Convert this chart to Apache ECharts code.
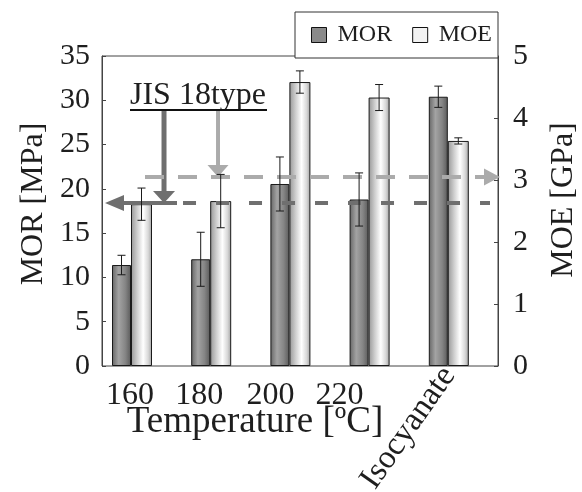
<!DOCTYPE html>
<html><head><meta charset="utf-8">
<script src="https://cdn.jsdelivr.net/npm/echarts@6/dist/echarts.min.js"></script>
<style>html,body{margin:0;padding:0;background:#fff}#c{width:582px;height:492px}</style>
</head><body><div id="c"></div>
<script>
// ---- data ----
const categories = ['160', '180', '200', '220', 'Isocyanate'];
const morValues = [11.4, 12.05, 20.55, 18.8, 30.4];
const morErrors = [1.1, 3.05, 3.05, 3.0, 1.2];
const moeValues = [2.61, 2.66, 4.58, 4.33, 3.63];
const moeErrors = [0.26, 0.43, 0.18, 0.21, 0.05];
const morTicks = [0, 5, 10, 15, 20, 25, 30, 35];
const moeTicks = [0, 1, 2, 3, 4, 5];
const jisMOR = 18.4;   // JIS 18 type MOR threshold [MPa]
const jisMOE = 3.05;   // JIS 18 type MOE threshold [GPa]
const jisLabel = 'JIS 18type';
const xName = 'Temperature [ºC]';
const morName = 'MOR [MPa]';
const moeName = 'MOE [GPa]';

// ---- style ----
const FONT = '"Liberation Serif", "Times New Roman", serif';
const TXT = '#1e1e1e';
const AX = '#444';
const MOR_W = 19, MOE_W = 21;
const DARK = '#6f6f6f', LIGHT = '#ababab';
const morGrad = {type: 'linear', x: 0, y: 0, x2: 1, y2: 0, colorStops: [
  {offset: 0, color: '#656565'}, {offset: 0.35, color: '#a3a3a3'},
  {offset: 0.7, color: '#858585'}, {offset: 1, color: '#5a5a5a'}]};
const moeGrad = {type: 'linear', x: 0, y: 0, x2: 1, y2: 0, colorStops: [
  {offset: 0, color: '#979797'}, {offset: 0.3, color: '#cfcfcf'},
  {offset: 0.58, color: '#ffffff'}, {offset: 0.82, color: '#d8d8d8'}, {offset: 1, color: '#a2a2a2'}]};

// annotation layout (x in frame-axis units 0..5)
const darkArrow = {tip: 0.038, solidEnd: 0.947, dashStart: 1.023, dashEnd: 4.899, vx: 0.783, vtop: 28.79};
const lightArrow = {dashStart: 0.543, dashEnd: 4.836, tip: 5.025, vx: 1.465, vtop: 4.113};

const chart = echarts.init(document.getElementById('c'), null, {renderer: 'canvas'});

function errRender(offset) {
  return function (params, api) {
    const i = api.value(0), v = api.value(1), e = api.value(2);
    const x = api.coord([i, v])[0] + offset;
    const t = api.coord([i, v + e])[1];
    const b = api.coord([i, v - e])[1];
    const st = {stroke: '#1a1a1a', lineWidth: 1};
    return {type: 'group', children: [
      {type: 'line', shape: {x1: x, y1: t, x2: x, y2: b}, style: st},
      {type: 'line', shape: {x1: x - 4, y1: t, x2: x + 4, y2: t}, style: st},
      {type: 'line', shape: {x1: x - 4, y1: b, x2: x + 4, y2: b}, style: st}
    ]};
  };
}

function darkRender(params, api) {
  const y = api.coord([0, jisMOR])[1];
  const tip = api.coord([darkArrow.tip, jisMOR])[0];
  const se = api.coord([darkArrow.solidEnd, jisMOR])[0];
  const ds = api.coord([darkArrow.dashStart, jisMOR])[0];
  const de = api.coord([darkArrow.dashEnd, jisMOR])[0];
  const vx = api.coord([darkArrow.vx, jisMOR])[0];
  const vt = api.coord([0, darkArrow.vtop])[1];
  return {type: 'group', children: [
    {type: 'line', shape: {x1: tip + 15, y1: y, x2: se, y2: y}, style: {stroke: DARK, lineWidth: 4}},
    {type: 'line', shape: {x1: ds, y1: y, x2: de, y2: y}, style: {stroke: DARK, lineWidth: 4, lineDash: [13, 20]}},
    {type: 'polygon', shape: {points: [[tip, y], [tip + 19, y - 8], [tip + 19, y + 8]]}, style: {fill: DARK}},
    {type: 'line', shape: {x1: vx, y1: vt, x2: vx, y2: y - 10}, style: {stroke: DARK, lineWidth: 5}},
    {type: 'polygon', shape: {points: [[vx - 11, y - 12], [vx + 11, y - 12], [vx, y]]}, style: {fill: DARK}}
  ]};
}

function lightRender(params, api) {
  const y = api.coord([0, jisMOE])[1];
  const ds = api.coord([lightArrow.dashStart, jisMOE])[0];
  const de = api.coord([lightArrow.dashEnd, jisMOE])[0];
  const tip = api.coord([lightArrow.tip, jisMOE])[0];
  const vx = api.coord([lightArrow.vx, jisMOE])[0];
  const vt = api.coord([0, lightArrow.vtop])[1];
  return {type: 'group', children: [
    {type: 'line', shape: {x1: ds, y1: y, x2: de, y2: y}, style: {stroke: LIGHT, lineWidth: 4, lineDash: [19, 14]}},
    {type: 'polygon', shape: {points: [[tip, y], [tip - 16, y - 8.5], [tip - 16, y + 8.5]]}, style: {fill: LIGHT}},
    {type: 'line', shape: {x1: vx, y1: vt, x2: vx, y2: y - 10}, style: {stroke: LIGHT, lineWidth: 4}},
    {type: 'polygon', shape: {points: [[vx - 10.5, y - 12], [vx + 10.5, y - 12], [vx, y]]}, style: {fill: LIGHT}}
  ]};
}

const labelShift = [4, 24, 40, 60];
const rich = {};
labelShift.forEach((p, i) => { rich['l' + i] = {fontFamily: FONT, fontSize: 32, color: TXT, padding: [0, p, 0, 0]}; });

const option = {
  animation: false,
  backgroundColor: '#fff',
  grid: [
    {left: 102, top: 56, width: 396, height: 310, show: true, borderColor: AX, borderWidth: 1,
     backgroundColor: 'transparent', containLabel: false, outerBoundsMode: 'none'},
    {left: 92.4, top: 56, width: 396, height: 310, containLabel: false, outerBoundsMode: 'none'}
  ],
  legend: {
    left: 295, top: 12, itemWidth: 15, itemHeight: 15, itemGap: 20,
    padding: [11, 6, 11, 16], borderColor: '#333', borderWidth: 1, backgroundColor: '#fff',
    selectedMode: false, z: 10,
    textStyle: {fontFamily: FONT, fontSize: 24, color: TXT, padding: [0, 0, 0, 6]},
    data: [
      {name: 'MOR', icon: 'rect', itemStyle: {color: '#8a8a8a', borderColor: '#111', borderWidth: 1}},
      {name: 'MOE', icon: 'rect', itemStyle: {color: '#f2f2f2', borderColor: '#111', borderWidth: 1}}
    ]
  },
  xAxis: [
    {type: 'value', gridIndex: 0, position: 'bottom', min: 0, max: 5, axisLine: {show: false}, axisTick: {show: false},
     axisLabel: {show: false}, splitLine: {show: false},
     name: xName, nameLocation: 'middle', nameGap: 38,
     nameTextStyle: {fontFamily: FONT, fontSize: 37, color: TXT, padding: [0, 90, 0, 0]}},
    {type: 'category', gridIndex: 1, position: 'bottom', data: categories, axisLine: {show: false}, axisTick: {show: false},
     axisLabel: {interval: (i) => i < 4, margin: 14, formatter: (v, i) => '{l' + i + '|' + v + '}', rich: rich}},
    {type: 'category', gridIndex: 1, position: 'bottom', data: categories, axisLine: {show: false}, axisTick: {show: false},
     axisLabel: {interval: (i) => i === 4, rotate: 55, margin: 4, fontFamily: FONT, fontSize: 33, color: TXT}}
  ],
  yAxis: [
    {type: 'value', gridIndex: 0, position: 'left', min: morTicks[0], max: morTicks[morTicks.length - 1],
     interval: morTicks[1] - morTicks[0],
     axisLine: {show: true, lineStyle: {color: AX, width: 1}},
     axisTick: {show: true, inside: true, length: 4, lineStyle: {color: AX}},
     axisLabel: {margin: 12, fontFamily: FONT, fontSize: 30, color: TXT}, splitLine: {show: false},
     name: morName, nameLocation: 'middle', nameGap: 52, nameRotate: 90,
     nameTextStyle: {fontFamily: FONT, fontSize: 32, color: TXT, padding: [0, 0, 0, 14]}},
    {type: 'value', gridIndex: 0, position: 'right', min: moeTicks[0], max: moeTicks[moeTicks.length - 1],
     interval: moeTicks[1] - moeTicks[0],
     axisLine: {show: true, lineStyle: {color: AX, width: 1}},
     axisTick: {show: true, inside: true, length: 4, lineStyle: {color: AX}},
     axisLabel: {margin: 15, fontFamily: FONT, fontSize: 30, color: TXT}, splitLine: {show: false},
     name: moeName, nameLocation: 'middle', nameGap: 50, nameRotate: 90,
     nameTextStyle: {fontFamily: FONT, fontSize: 32, color: TXT, padding: [0, 0, 0, 22]}},
    {type: 'value', gridIndex: 1, show: false, min: morTicks[0], max: morTicks[morTicks.length - 1]},
    {type: 'value', gridIndex: 1, show: false, min: moeTicks[0], max: moeTicks[moeTicks.length - 1]}
  ],
  graphic: [
    {type: 'text', left: 130, top: 80, z: 20,
     style: {text: jisLabel, fontFamily: FONT, fontSize: 32, fill: TXT}},
    {type: 'line', z: 20, shape: {x1: 130, y1: 110, x2: 267, y2: 110}, style: {stroke: '#111', lineWidth: 2}}
  ],
  series: [
    {name: 'MOR', type: 'bar', xAxisIndex: 1, yAxisIndex: 2, data: morValues, barWidth: MOR_W, barGap: '0%', z: 2,
     itemStyle: {color: morGrad, borderColor: '#1a1a1a', borderWidth: 1}},
    {name: 'MOE', type: 'bar', xAxisIndex: 1, yAxisIndex: 3, data: moeValues, barWidth: MOE_W, barGap: '0%', z: 2,
     itemStyle: {color: moeGrad, borderColor: '#1a1a1a', borderWidth: 1}},
    {type: 'custom', xAxisIndex: 0, yAxisIndex: 0, data: [[0, jisMOR]], renderItem: darkRender, z: 3, silent: true},
    {type: 'custom', xAxisIndex: 0, yAxisIndex: 1, data: [[0, jisMOE]], renderItem: lightRender, z: 3, silent: true},
    {type: 'custom', xAxisIndex: 1, yAxisIndex: 2, z: 5, silent: true,
     data: morValues.map((v, i) => [i, v, morErrors[i]]), renderItem: errRender(-MOE_W / 2)},
    {type: 'custom', xAxisIndex: 1, yAxisIndex: 3, z: 5, silent: true,
     data: moeValues.map((v, i) => [i, v, moeErrors[i]]), renderItem: errRender(MOR_W / 2)}
  ]
};
chart.setOption(option);
</script>
</body></html>
